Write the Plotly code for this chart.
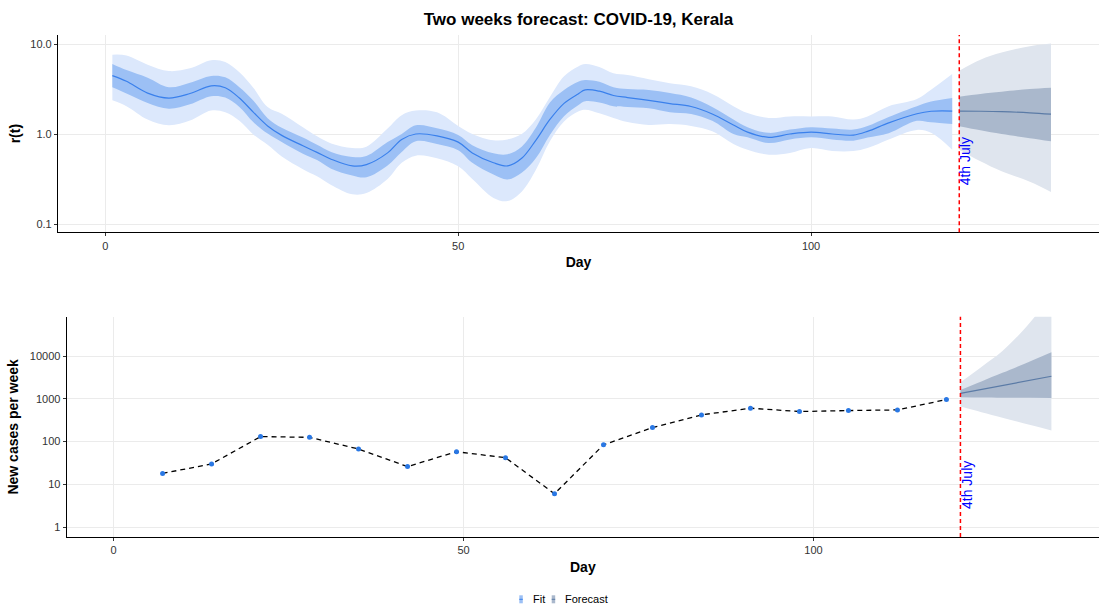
import plotly.graph_objects as go

# ---------------- data ----------------
fit_days = [1, 3, 6, 9, 12, 15, 17, 19, 21, 23, 25, 28, 30, 32, 35, 37, 40, 42, 44, 47,
            50, 52, 55, 57, 59, 61, 63, 65, 67, 68, 70, 72, 74, 77, 80, 83, 86, 89, 91, 94,
            97, 100, 103, 106, 108, 111, 115, 117, 120]
rt_mid = [4.45, 3.85, 2.85, 2.51, 2.82, 3.43, 3.27, 2.51, 1.74, 1.23,
          0.966, 0.741, 0.625, 0.525, 0.442, 0.457, 0.617, 0.871, 1.0, 0.955,
          0.813, 0.617, 0.479, 0.442, 0.537, 0.851, 1.45, 2.19, 2.79, 3.09,
          2.99, 2.68, 2.54, 2.36, 2.18, 2.02, 1.67, 1.26, 1.05, 0.918,
          1.0, 1.05, 1.0, 0.973, 1.07, 1.33, 1.68, 1.79, 1.80]
rt_lo50 = [3.30, 2.82, 2.21, 1.91, 2.14, 2.63, 2.54, 2.0, 1.35, 1.01,
           0.813, 0.603, 0.513, 0.412, 0.347, 0.331, 0.447, 0.631, 0.830, 0.776,
           0.661, 0.479, 0.355, 0.313, 0.372, 0.537, 0.977, 1.58, 2.09, 2.31,
           2.24, 2.04, 2.0, 1.93, 1.75, 1.67, 1.40, 1.0, 0.918, 0.794,
           0.871, 0.918, 0.871, 0.843, 0.912, 1.02, 1.40, 1.35, 1.29]
rt_hi50 = [6.0, 5.13, 4.22, 3.31, 3.72, 4.42, 4.27, 3.31, 2.34, 1.50,
           1.17, 0.912, 0.759, 0.631, 0.556, 0.569, 0.813, 1.0, 1.25, 1.16,
           0.977, 0.750, 0.610, 0.596, 0.724, 1.17, 2.24, 3.09, 3.80, 3.98,
           3.80, 3.31, 3.16, 3.09, 2.86, 2.55, 2.0, 1.45, 1.19, 1.03,
           1.12, 1.19, 1.15, 1.12, 1.23, 1.55, 2.04, 2.29, 2.51]
rt_lo95 = [2.37, 2.04, 1.45, 1.25, 1.41, 1.82, 1.74, 1.40, 0.984, 0.759,
           0.562, 0.407, 0.339, 0.272, 0.214, 0.221, 0.316, 0.479, 0.575, 0.537,
           0.437, 0.316, 0.195, 0.180, 0.229, 0.398, 0.832, 1.38, 1.78, 1.86,
           1.70, 1.51, 1.36, 1.26, 1.29, 1.23, 1.07, 0.776, 0.670, 0.589,
           0.617, 0.698, 0.646, 0.646, 0.698, 0.871, 1.11, 1.03, 0.670]
rt_hi95 = [7.60, 7.45, 5.89, 5.01, 5.37, 6.61, 6.31, 4.84, 3.24, 2.00,
           1.68, 1.19, 0.942, 0.785, 0.700, 0.724, 1.15, 1.62, 1.82, 1.74,
           1.23, 1.0, 0.851, 0.871, 1.0, 1.45, 2.57, 4.37, 5.62, 6.0,
           5.56, 4.73, 4.52, 4.07, 3.67, 3.39, 2.79, 2.04, 1.71, 1.51,
           1.57, 1.57, 1.57, 1.45, 1.57, 2.04, 2.45, 3.11, 4.65]

fc_days = [121, 124, 127, 131, 134]
fc_rt_mid = [1.80, 1.79, 1.77, 1.72, 1.66]
fc_rt_lo50 = [1.22, 1.10, 1.0, 0.90, 0.83]
fc_rt_hi50 = [2.60, 2.79, 2.95, 3.16, 3.27]
fc_rt_lo95 = [0.67, 0.497, 0.385, 0.295, 0.227]
fc_rt_hi95 = [5.06, 6.70, 8.04, 9.44, 10.1]

obs_days = [7, 14, 21, 28, 35, 42, 49, 56, 63, 70, 77, 84, 91, 98, 105, 112, 119]
obs_cases = [18, 30, 131, 126, 67, 26, 58, 42, 6, 84, 213, 422, 605, 506, 533, 552, 964]

fc_cases_mid = [1350, 1660, 2040, 2750, 3390]
fc_cases_lo50 = [1100, 1080, 1070, 1060, 1050]
fc_cases_hi50 = [1620, 2570, 4070, 7590, 12300]
fc_cases_lo95 = [660, 490, 363, 245, 182]
fc_cases_hi95 = [2450, 5620, 13200, 63100, 282000]

forecast_start = 121
x_ticks = [0, 50, 100]
rt_ticks = [0.1, 1, 10]
rt_tick_text = ["0.1", "1.0", "10.0"]
case_ticks = [1, 10, 100, 1000, 10000]
case_tick_text = ["1", "10", "100", "1000", "10000"]

# ---------------- style ----------------
W, H = 1104, 607
ML, MR, MT, MB = 58, 5, 35, 70
PW, PH = W - ML - MR, H - MT - MB
FONT = "Liberation Sans, Arial, Helvetica, sans-serif"

FIT_OUT, FIT_IN, FIT_LINE = "#dce8fc", "#9cc0f5", "#3a80ec"
FC_OUT, FC_IN, FC_LINE = "#dfe5ee", "#aab8cc", "#5b7ba6"


def px_x(px):
    return (px - ML) / PW


def px_y(py):
    return (H - MB - py) / PH


fig = go.Figure()


def band(x, lo, hi, color, xa, ya, shape):
    fig.add_trace(go.Scatter(x=x, y=lo, mode="lines", line=dict(width=0, shape=shape),
                             hoverinfo="skip", showlegend=False, xaxis=xa, yaxis=ya))
    fig.add_trace(go.Scatter(x=x, y=hi, mode="lines", line=dict(width=0, shape=shape),
                             fill="tonexty", fillcolor=color, hoverinfo="skip",
                             showlegend=False, xaxis=xa, yaxis=ya))


# top panel: r(t)
band(fit_days, rt_lo95, rt_hi95, FIT_OUT, "x", "y", "spline")
band(fit_days, rt_lo50, rt_hi50, FIT_IN, "x", "y", "spline")
fig.add_trace(go.Scatter(x=fit_days, y=rt_mid, mode="lines", name="Fit",
                         line=dict(color=FIT_LINE, width=1.2, shape="spline"),
                         showlegend=False, xaxis="x", yaxis="y"))
band(fc_days, fc_rt_lo95, fc_rt_hi95, FC_OUT, "x", "y", "spline")
band(fc_days, fc_rt_lo50, fc_rt_hi50, FC_IN, "x", "y", "spline")
fig.add_trace(go.Scatter(x=fc_days, y=fc_rt_mid, mode="lines", name="Forecast",
                         line=dict(color=FC_LINE, width=1.2, shape="spline"),
                         showlegend=False, xaxis="x", yaxis="y"))

# bottom panel: cases
band(fc_days, fc_cases_lo95, fc_cases_hi95, FC_OUT, "x2", "y2", "spline")
band(fc_days, fc_cases_lo50, fc_cases_hi50, FC_IN, "x2", "y2", "spline")
fig.add_trace(go.Scatter(x=fc_days, y=fc_cases_mid, mode="lines",
                         line=dict(color=FC_LINE, width=1.2),
                         showlegend=False, xaxis="x2", yaxis="y2"))
fig.add_trace(go.Scatter(x=obs_days, y=obs_cases, mode="lines",
                         line=dict(color="black", width=1.3, dash="5px,4px"),
                         showlegend=False, xaxis="x2", yaxis="y2"))
fig.add_trace(go.Scatter(x=obs_days, y=obs_cases, mode="markers",
                         marker=dict(color="#2a78e4", size=5),
                         showlegend=False, xaxis="x2", yaxis="y2"))

top_dom = [px_y(232.3), 1]
bot_dom = [0, px_y(316.7)]

axis_common = dict(showline=True, linecolor="black", linewidth=1.2, mirror=False,
                   ticks="outside", ticklen=3, tickcolor="#333333", tickwidth=1,
                   showgrid=True, gridcolor="#ebebeb", gridwidth=1, zeroline=False,
                   tickfont=dict(family=FONT, size=11, color="#333333"))
title_font = dict(family=FONT, size=14, color="black")

fig.update_layout(
    width=W, height=H,
    margin=dict(l=ML, r=MR, t=MT, b=MB),
    paper_bgcolor="white", plot_bgcolor="white",
    showlegend=False,
    title=dict(text="<b>Two weeks forecast: COVID-19, Kerala</b>", x=0.5, xref="paper",
               xanchor="center", y=1 - 19 / H, yref="container", yanchor="middle",
               font=dict(family=FONT, size=17, color="black")),
    xaxis=dict(domain=[0, 1], range=[-6.7, 140.8], anchor="y", tickvals=x_ticks,
               title=dict(text="<b>Day</b>", font=title_font, standoff=6), **axis_common),
    yaxis=dict(domain=top_dom, type="log", range=[-1.092, 1.1], anchor="x",
               tickvals=rt_ticks, ticktext=rt_tick_text,
               title=dict(text="<b>r(t)</b>", font=title_font, standoff=6), **axis_common),
    xaxis2=dict(domain=[px_x(66.7), 1], range=[-6.7, 140.8], anchor="y2", tickvals=x_ticks,
                title=dict(text="<b>Day</b>", font=title_font, standoff=6), **axis_common),
    yaxis2=dict(domain=bot_dom, type="log", range=[-0.234, 4.925], anchor="x2",
                tickvals=case_ticks, ticktext=case_tick_text,
                title=dict(text="<b>New cases per week</b>", font=title_font, standoff=7),
                **axis_common),
)

# forecast start marker
for xa, ya, ty in (("x", "y domain", 0.361), ("x2", "y2 domain", 0.238)):
    fig.add_shape(type="line", xref=xa, yref=ya, x0=forecast_start, x1=forecast_start,
                  y0=0, y1=1, line=dict(color="red", width=1.5, dash="4px,3px"))
    fig.add_annotation(xref=xa, yref=ya, x=forecast_start, y=ty, text="4th July",
                       textangle=-90, showarrow=False, xanchor="center", yanchor="middle",
                       xshift=6, font=dict(family=FONT, size=14, color="blue"))

# legend (drawn like ggplot's bottom legend)
ly = 599.3
for kx, tx, label, fill, line in ((519.3, 530.7, "Fit", FIT_IN, FIT_LINE),
                                   (551.7, 563.3, "Forecast", FC_IN, FC_LINE)):
    fig.add_shape(type="rect", xref="paper", yref="paper",
                  x0=px_x(kx), x1=px_x(kx + 3.5), y0=px_y(ly - 4), y1=px_y(ly + 4),
                  fillcolor=fill, line=dict(width=0))
    fig.add_shape(type="line", xref="paper", yref="paper",
                  x0=px_x(kx), x1=px_x(kx + 3.5), y0=px_y(ly), y1=px_y(ly),
                  line=dict(color=line, width=1))
    fig.add_annotation(xref="paper", yref="paper", x=px_x(tx), y=px_y(ly), text=label,
                       showarrow=False, xanchor="left", yanchor="middle",
                       font=dict(family=FONT, size=11, color="black"))

fig.write_html("out.html")
